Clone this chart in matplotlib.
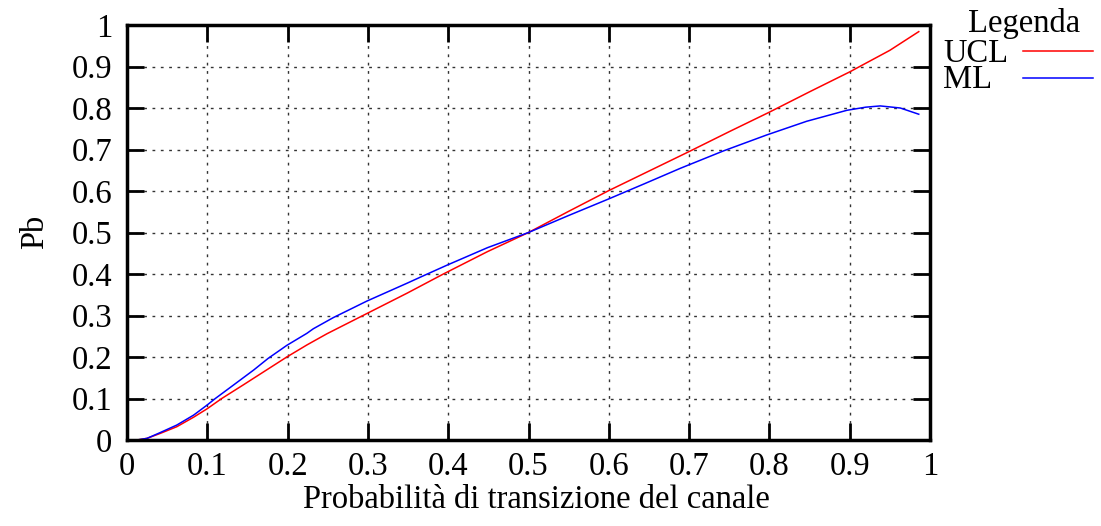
import matplotlib
matplotlib.use("Agg")
import matplotlib.pyplot as plt
from matplotlib.lines import Line2D

x_ucl = [0.0125, 0.025, 0.0415, 0.062, 0.083, 0.0996, 0.118, 0.145, 0.174, 0.199, 0.224, 0.249,
         0.299, 0.349, 0.394, 0.449, 0.5, 0.55, 0.6, 0.65, 0.7, 0.75, 0.8, 0.85, 0.9, 0.95, 0.986]
y_ucl = [0.0, 0.004, 0.016, 0.032, 0.055, 0.075, 0.1, 0.133, 0.169, 0.2, 0.229, 0.256,
         0.305, 0.354, 0.4, 0.454, 0.5, 0.551, 0.601, 0.648, 0.695, 0.743, 0.79, 0.839, 0.887, 0.939, 0.984]

x_ml = [0.0125, 0.025, 0.0415, 0.062, 0.083, 0.0996, 0.11, 0.133, 0.158, 0.176, 0.1905, 0.199, 0.224,
        0.232, 0.257, 0.299, 0.349, 0.374, 0.399, 0.449, 0.5, 0.55, 0.6, 0.645, 0.689, 0.7425, 0.7966,
        0.8464, 0.8966, 0.92, 0.938, 0.963, 0.986]
y_ml = [0.0, 0.004, 0.018, 0.036, 0.060, 0.084, 0.1, 0.133, 0.169, 0.197, 0.2165, 0.228, 0.257,
        0.268, 0.295, 0.335, 0.378, 0.4, 0.4217, 0.4635, 0.5, 0.541, 0.581, 0.618, 0.6546, 0.6964, 0.735,
        0.768, 0.7945, 0.802, 0.805, 0.8, 0.785]

xticks = [0, 0.1, 0.2, 0.3, 0.4, 0.5, 0.6, 0.7, 0.8, 0.9, 1]
xticklabels = ["0", "0.1", "0.2", "0.3", "0.4", "0.5", "0.6", "0.7", "0.8", "0.9", "1"]
yticks = [0, 0.1, 0.2, 0.3, 0.4, 0.5, 0.6, 0.7, 0.8, 0.9, 1]
yticklabels = ["0", "0.1", "0.2", "0.3", "0.4", "0.5", "0.6", "0.7", "0.8", "0.9", "1"]

plt.rcParams['font.family'] = ['Liberation Serif', 'DejaVu Serif']
FS = 23.5
W, H = 1101, 526

fig = plt.figure(figsize=(W / 100, H / 100), dpi=100)
ax = fig.add_axes([127 / W, 86 / H, 803 / W, 415 / H])

ax.plot(x_ucl, y_ucl, color='#ff0000', lw=1.1, label='UCL')
ax.plot(x_ml, y_ml, color='#0000ff', lw=1.1, label='ML')

ax.set_xlim(0, 1)
ax.set_ylim(0, 1)
ax.set_xticks(xticks)
ax.set_xticklabels(xticklabels)
ax.set_yticks(yticks)
ax.set_yticklabels(yticklabels)
ax.tick_params(axis='both', direction='in', length=12, width=2, labelsize=FS,
               top=True, right=True)
ax.tick_params(axis='y', pad=10.5)
ax.tick_params(axis='x', pad=8)
for s in ax.spines.values():
    s.set_linewidth(2.5)
ax.grid(True, color='#333333', linestyle=(0, (2, 4)), linewidth=1)

fig.text(536 / W, 1 - 508 / H, 'Probabilità di transizione del canale', fontsize=FS,
         ha='center', va='baseline')
fig.text(35 / W, 1 - 232 / H, 'Pb', fontsize=FS, rotation=90, ha='center', va='center')

# legend (drawn manually to match layout)
fig.text(1024 / W, 1 - 31.7 / H, 'Legenda', fontsize=FS, ha='center', va='baseline')
fig.text(943 / W, 1 - 61.7 / H, 'UCL', fontsize=FS, ha='left', va='baseline')
fig.text(943 / W, 1 - 88.3 / H, 'ML', fontsize=FS, ha='left', va='baseline')
fig.add_artist(Line2D([1023 / W, 1093 / W], [1 - 50.7 / H, 1 - 50.7 / H],
                      color='#ff0000', lw=1.1, transform=fig.transFigure))
fig.add_artist(Line2D([1023 / W, 1093 / W], [1 - 77.7 / H, 1 - 77.7 / H],
                      color='#0000ff', lw=1.1, transform=fig.transFigure))

fig.savefig('out.png', dpi=100)
